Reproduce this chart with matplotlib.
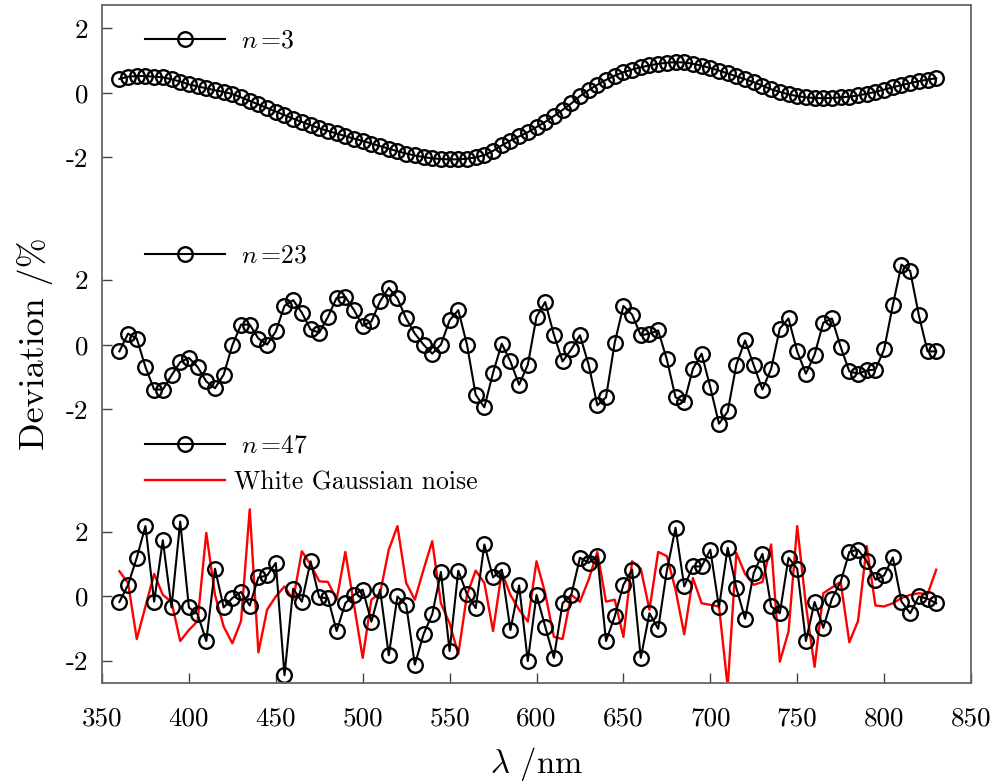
import numpy as np
import matplotlib
matplotlib.use("Agg")
import matplotlib.pyplot as plt

# ---------------- data ----------------
wavelength = list(range(360, 831, 5))  # nm

dev_n3 = [0.43, 0.50, 0.52, 0.52, 0.50, 0.48, 0.42, 0.35, 0.26, 0.20,
          0.14, 0.08, 0.03, -0.04, -0.14, -0.25, -0.36, -0.47, -0.58, -0.69,
          -0.80, -0.90, -1.00, -1.10, -1.18, -1.26, -1.34, -1.42, -1.49, -1.57,
          -1.65, -1.73, -1.81, -1.88, -1.94, -1.99, -2.03, -2.05, -2.06, -2.06,
          -2.04, -2.00, -1.93, -1.80, -1.63, -1.48, -1.35, -1.22, -1.06, -0.90,
          -0.72, -0.53, -0.33, -0.10, 0.08, 0.25, 0.40, 0.53, 0.64, 0.72,
          0.79, 0.85, 0.90, 0.93, 0.95, 0.94, 0.90, 0.84, 0.77, 0.69,
          0.60, 0.51, 0.42, 0.33, 0.22, 0.11, 0.03, -0.05, -0.10, -0.14,
          -0.16, -0.17, -0.16, -0.14, -0.12, -0.08, -0.03, 0.03, 0.10, 0.17,
          0.24, 0.30, 0.36, 0.41, 0.45]

dev_n23 = [-0.21, 0.34, 0.19, -0.69, -1.39, -1.39, -0.95, -0.54, -0.41, -0.69,
           -1.14, -1.35, -0.93, -0.02, 0.62, 0.62, 0.19, 0.00, 0.41, 1.20,
           1.38, 0.99, 0.47, 0.37, 0.86, 1.45, 1.48, 1.07, 0.58, 0.72,
           1.34, 1.76, 1.43, 0.81, 0.34, 0.00, -0.28, 0.00, 0.75, 1.07,
           0.00, -1.55, -1.94, -0.87, 0.03, -0.52, -1.24, -0.62, 0.86, 1.32,
           0.31, -0.52, -0.15, 0.29, -0.62, -1.88, -1.63, 0.06, 1.20, 0.93,
           0.29, 0.34, 0.44, -0.46, -1.63, -1.78, -0.75, -0.28, -1.32, -2.45,
           -2.07, -0.62, 0.13, -0.64, -1.39, -0.75, 0.50, 0.81, -0.21, -0.90,
           -0.31, 0.68, 0.81, -0.07, -0.83, -0.90, -0.80, -0.77, -0.15, 1.22,
           2.48, 2.28, 0.91, -0.21, -0.21]

dev_n47 = [-0.17, 0.36, 1.20, 2.18, -0.16, 1.74, -0.34, 2.32, -0.34, -0.55,
           -1.38, 0.86, -0.34, -0.05, 0.14, -0.28, 0.59, 0.65, 1.04, -2.44,
           0.24, -0.16, 1.09, -0.03, -0.05, -1.07, -0.21, 0.05, 0.21, -0.78,
           0.21, -1.82, 0.00, -0.26, -2.11, -1.17, -0.55, 0.76, -1.69, 0.80,
           0.07, -0.36, 1.61, 0.59, 0.83, -1.04, 0.34, -2.00, 0.05, -0.93,
           -1.90, -0.21, 0.05, 1.20, 1.04, 1.25, -1.38, -0.62, 0.36, 0.83,
           -1.90, -0.52, -1.00, 0.80, 2.13, 0.31, 0.93, 0.93, 1.45, -0.34,
           1.51, 0.26, -0.69, 0.73, 1.32, -0.31, -0.52, 1.20, 0.86, -1.38,
           -0.17, -0.97, -0.07, 0.45, 1.38, 1.45, 1.09, 0.52, 0.65, 1.21,
           -0.16, -0.52, 0.00, -0.07, -0.21]

white_noise = [0.78, 0.42, -1.32, -0.31, 0.70, 0.05, -0.17, -1.38, -1.04, -0.76,
               1.97, 0.05, -0.93, -1.45, -0.76, 2.70, -1.73, -0.41, 0.00, 0.31,
               -0.10, 1.40, 0.99, 0.47, 0.45, -0.10, 1.38, -0.26, -1.90, -0.10,
               0.10, 1.45, 2.18, 0.42, -0.10, 0.83, 1.71, -0.21, -0.83, -1.79,
               0.05, 0.80, 0.42, -1.07, 0.76, 0.05, -0.41, -0.78, 1.09, 0.10,
               -1.25, -1.32, 0.05, -0.16, 0.52, 1.38, -0.16, -0.10, -1.25, 1.09,
               0.86, -0.41, 1.38, 1.25, 0.21, -1.17, 0.57, -0.21, -0.26, -0.31,
               -2.80, 1.35, 0.70, 0.36, 0.45, 1.61, -2.02, -1.09, 2.18, -0.26,
               -2.18, 0.10, 0.28, 0.45, -1.42, -0.76, 1.56, -0.28, -0.31, -0.21,
               -0.05, 0.05, 0.10, 0.07, 0.83]

group_offsets = [15.6, 7.8, 0.0]      # vertical offset of each panel
panel_ticks = [2, 0, -2]
panel_ticklabels = ["2", "0", "-2"]
xticks = list(range(350, 851, 50))

# ---------------- style ----------------
plt.rcParams["font.family"] = "serif"
plt.rcParams["font.serif"] = ["cmr10", "DejaVu Serif"]
plt.rcParams["mathtext.fontset"] = "cm"
plt.rcParams["axes.unicode_minus"] = False
plt.rcParams["axes.formatter.use_mathtext"] = True

W, H = 1004, 783
fig = plt.figure(figsize=(W / 100, H / 100), dpi=100)
L, R, T, B = 102, 971, 5, 683
ax = fig.add_axes([L / W, 1 - B / H, (R - L) / W, (B - T) / H])

wl = np.array(wavelength)
mk = dict(marker="o", markersize=10.5, markerfacecolor="none",
          markeredgecolor="black", markeredgewidth=1.7)

l3, = ax.plot(wl, np.array(dev_n3) + group_offsets[0], color="black", lw=1.5, **mk)
l23, = ax.plot(wl, np.array(dev_n23) + group_offsets[1], color="black", lw=1.5, **mk)
lnoise, = ax.plot(wl, np.array(white_noise) + group_offsets[2], color="red", lw=1.7)
l47, = ax.plot(wl, np.array(dev_n47) + group_offsets[2], color="black", lw=1.5, **mk)

ax.set_xlim(350, 850)
ax.set_ylim(-2.68, 18.32)
ax.set_xticks(xticks)
ax.set_xticklabels([str(v) for v in xticks])

yt, ytl = [], []
for off in group_offsets:
    for t, s in zip(panel_ticks, panel_ticklabels):
        yt.append(t + off)
        ytl.append(s)
ax.set_yticks(yt)
ax.set_yticklabels(ytl)

ax.tick_params(axis="both", direction="in", labelsize=19.5, length=7,
               width=1.0, color="#444444")
ax.tick_params(axis="x", pad=17)
ax.tick_params(axis="y", pad=10)
for sp in ax.spines.values():
    sp.set_color("#666666")
    sp.set_linewidth(1.3)

ax.set_xlabel(r"$\lambda$ /nm", fontsize=23.5)
ax.set_ylabel("Deviation /%", fontsize=26)
ax.xaxis.set_label_coords(0.5, -0.092)
ax.yaxis.set_label_coords(-0.056, 0.5)

# ---------------- legends ----------------
leg_kw = dict(frameon=False, fontsize=18.5, handlelength=3.1, handletextpad=0.35,
              borderpad=0, borderaxespad=0, loc="center left")
leg1 = ax.legend([l3], [r"$\,\,n\,$=3"], bbox_to_anchor=(145 / W, 1 - 41 / H),
                 bbox_transform=fig.transFigure, **leg_kw)
ax.add_artist(leg1)
leg2 = ax.legend([l23], [r"$\,\,n\,$=23"], bbox_to_anchor=(145 / W, 1 - 256 / H),
                 bbox_transform=fig.transFigure, **leg_kw)
ax.add_artist(leg2)
leg3 = ax.legend([l47, lnoise], [r"$\,\,n\,$=47", "White Gaussian noise"],
                 bbox_to_anchor=(145 / W, 1 - 464 / H),
                 bbox_transform=fig.transFigure, labelspacing=0.5, **leg_kw)

fig.savefig("out.png", dpi=100)
